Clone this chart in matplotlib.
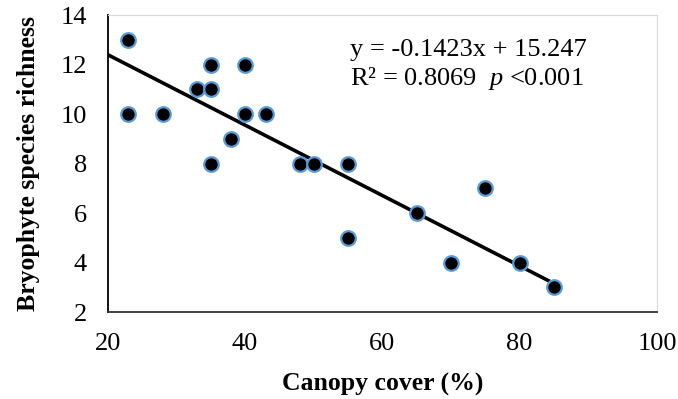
import numpy as np
import matplotlib.pyplot as plt

plt.rcParams['font.family'] = ['Liberation Serif', 'DejaVu Serif']
plt.rcParams['mathtext.fontset'] = 'custom'
plt.rcParams['mathtext.it'] = 'Liberation Serif:italic'
plt.rcParams['mathtext.rm'] = 'Liberation Serif'

# canopy cover (%) and bryophyte species richness per plot
canopy = [23, 23, 28, 33, 35, 35, 35, 38, 40, 40, 43, 48, 50, 55, 55, 65, 70, 75, 80, 85]
richness = [13, 10, 10, 11, 11, 12, 8, 9, 12, 10, 10, 8, 8, 8, 5, 6, 4, 7, 4, 3]

slope = -0.1423
intercept = 15.247

fig = plt.figure(figsize=(6.78, 3.99), dpi=100)
ax = fig.add_axes([0.159, 0.218, 0.81, 0.744])

ax.plot(canopy, richness, 'o', color='black', markersize=10.5,
        markeredgecolor='#5B9BD5', markeredgewidth=1.6, zorder=3)

xs = np.array([20, 85])
ax.plot(xs, slope * xs + intercept, color='black', lw=2.6, zorder=2)

ax.set_xlim(20, 100)
ax.set_ylim(2, 14)
ax.set_xticks(range(20, 101, 20))
ax.set_yticks(range(2, 15, 2))
ax.tick_params(length=0, labelsize=19, pad=15)

ax.spines['left'].set_color('black')
ax.spines['bottom'].set_color('#333333')
ax.spines['left'].set_linewidth(1.3)
ax.spines['bottom'].set_linewidth(1.3)
ax.spines['top'].set_color('#d9d9d9')
ax.spines['right'].set_color('#d9d9d9')

ax.set_xlabel('Canopy cover (%)', fontsize=18.5, fontweight='bold', labelpad=13)
ax.set_ylabel('Bryophyte species richness', fontsize=18.5, fontweight='bold', labelpad=15)

ax.text(55.3, 12.6, 'y = -0.1423x + 15.247', fontsize=19, va='center')
ax.text(55.3, 11.45, 'R² = 0.8069  $\\it{p}$ <0.001', fontsize=19, va='center')

fig.savefig('out.png', dpi=100)
